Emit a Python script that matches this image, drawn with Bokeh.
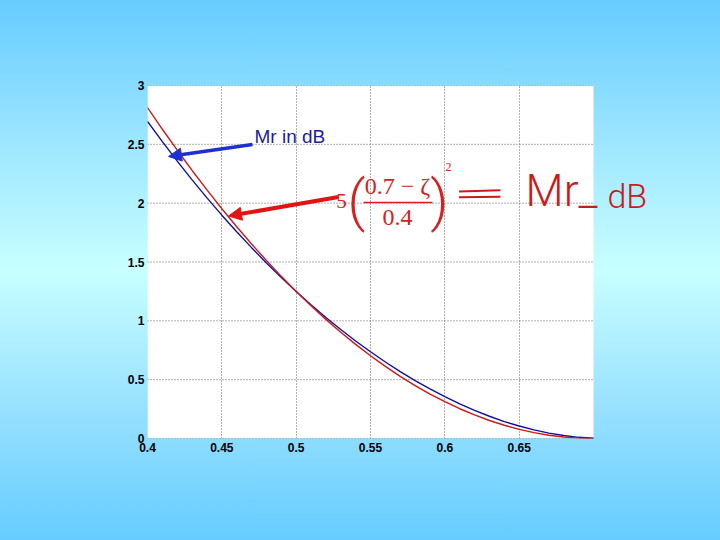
from bokeh.plotting import figure
from bokeh.models import Label, Arrow, NormalHead, BoxAnnotation
from bokeh.embed import file_html
from bokeh.resources import INLINE

# damping ratio values
zeta = [0.40, 0.41, 0.42, 0.43, 0.44, 0.45, 0.46, 0.47, 0.48, 0.49, 0.50,
        0.51, 0.52, 0.53, 0.54, 0.55, 0.56, 0.57, 0.58, 0.59, 0.60,
        0.61, 0.62, 0.63, 0.64, 0.65, 0.66, 0.67, 0.68, 0.69, 0.70]
# Mr in dB (blue)
mr_db = [2.695, 2.523, 2.357, 2.198, 2.045, 1.898, 1.757, 1.622, 1.492, 1.368, 1.249,
         1.136, 1.028, 0.926, 0.829, 0.737, 0.650, 0.568, 0.492, 0.421, 0.355,
         0.294, 0.239, 0.189, 0.144, 0.106, 0.073, 0.046, 0.025, 0.010, 0.002]
# approximation 5((0.7-zeta)/0.4)^2 (red)
approx = [2.8125, 2.628, 2.450, 2.278, 2.1125, 1.953, 1.800, 1.653, 1.5125, 1.378, 1.250,
          1.128, 1.0125, 0.903, 0.800, 0.703, 0.6125, 0.528, 0.450, 0.378, 0.3125,
          0.253, 0.200, 0.153, 0.1125, 0.078, 0.050, 0.028, 0.0125, 0.003, 0.0]
x_ticks = [0.4, 0.45, 0.5, 0.55, 0.6, 0.65]
y_ticks = [0, 0.5, 1, 1.5, 2, 2.5, 3]
x_min, x_max = 0.4, 0.7
y_min, y_max = 0, 3

# frame extends to the right page edge so that annotations beyond the axes box are not clipped
p = figure(frame_width=573, frame_height=353, x_range=(0.4, 0.4 + 573 * 0.3 / 446), y_range=(0, 3),
           output_backend="svg", toolbar_location=None,
           min_border_left=147, min_border_right=0, min_border_top=85, min_border_bottom=102)
p.styles = {"background": "linear-gradient(180deg, #66ccff 0%, #99e3ff 24%, #c8ffff 50%, #99e1ff 75%, #66ccff 100%)"}
p.border_fill_color = None
p.background_fill_color = None
p.outline_line_color = None

# white axes box
p.add_layout(BoxAnnotation(left=x_min, right=x_max, bottom=y_min, top=y_max, fill_color="white",
                           fill_alpha=1, line_color=None, level="image"))

for ax in (p.xaxis, p.yaxis):
    ax.axis_line_color = None
    ax.major_tick_line_color = None
    ax.minor_tick_line_color = None
    ax.major_tick_out = 0
    ax.major_tick_in = 0
    ax.major_label_text_font = "Liberation Sans"
    ax.major_label_text_font_style = "bold"
    ax.major_label_text_font_size = "12px"
    ax.major_label_text_color = "black"
p.xaxis.ticker = x_ticks
p.yaxis.ticker = y_ticks
p.xaxis.bounds = (x_min, x_max)
p.xaxis.major_label_standoff = 4
p.yaxis.major_label_standoff = 3
grid_color = "#606060"
p.xgrid.ticker = x_ticks
p.xgrid.grid_line_color = grid_color
p.xgrid.grid_line_dash = "1 2"
p.ygrid.visible = False
# horizontal grid lines limited to the axes box
n = len(y_ticks)
p.segment(x0=[x_min] * n, x1=[x_max] * n, y0=y_ticks, y1=y_ticks,
          line_color=grid_color, line_dash="1 2", line_width=1, level="underlay")

p.line(zeta, mr_db, line_color="#1010a8", line_width=1.4)
p.line(zeta, approx, line_color="#d01818", line_width=1.4)

# annotations
p.add_layout(Arrow(end=NormalHead(size=13, fill_color="#1f30d0", line_color="#1f30d0"),
                   x_start=0.4706, y_start=2.4986, x_end=0.4141, y_end=2.3966,
                   line_color="#1f30d0", line_width=3.5))
p.add_layout(Label(x=0.4720, y=2.5666, text="Mr in dB", text_font="Liberation Sans",
                   text_font_size="19px", text_color="#1c1ca0", text_baseline="middle"))

red = "#d82020"
p.add_layout(Arrow(end=NormalHead(size=13, fill_color="#e01414", line_color="#e01414"),
                   x_start=0.5285, y_start=2.0524, x_end=0.4545, y_end=1.8909,
                   line_color="#e01414", line_width=4))

serif = "Liberation Serif"
p.add_layout(Label(x=0.5305, y=2.0142, text="5", text_font=serif, text_font_size="21px",
                   text_color=red, text_align="center", text_baseline="middle"))
p.add_layout(Label(x=0.5406, y=2.0142, text="(", text_font="Roboto Light, Roboto", text_font_size="56px",
                   text_color=red, text_align="center", text_baseline="middle"))
p.add_layout(Label(x=0.5682, y=2.1501, text="0.7 \u2212 \u03b6", text_font=serif, text_font_size="24px",
                   text_color=red, text_align="center", text_baseline="middle"))
p.add_layout(Arrow(end=None, x_start=0.5453, y_start=2.0057, x_end=0.5917, y_end=2.0057,
                   line_color=red, line_width=1.5))
p.add_layout(Label(x=0.5682, y=1.8782, text="0.4", text_font=serif, text_font_size="24px",
                   text_color=red, text_align="center", text_baseline="middle"))
p.add_layout(Label(x=0.5964, y=2.0142, text=")", text_font="Roboto Light, Roboto", text_font_size="56px",
                   text_color=red, text_align="center", text_baseline="middle"))
p.add_layout(Label(x=0.6025, y=2.3116, text="2", text_font=serif, text_font_size="12px",
                   text_color=red, text_align="center", text_baseline="middle"))

# handwritten "= Mr_ dB"
hand = "#d01818"
p.add_layout(Arrow(end=None, x_start=0.6095, y_start=2.10, x_end=0.6374, y_end=2.11,
                   line_color=hand, line_width=2))
p.add_layout(Arrow(end=None, x_start=0.6095, y_start=2.05, x_end=0.6374, y_end=2.055,
                   line_color=hand, line_width=2))
p.add_layout(Label(x=0.6543, y=2.1037, text="Mr_", text_font="Roboto Light, Roboto",
                   text_font_size="44px", text_color=hand, text_baseline="middle"))
p.add_layout(Label(x=0.7094, y=2.0632, text="dB", text_font="Roboto Light, Roboto",
                   text_font_size="34px", text_color=hand, text_baseline="middle"))

open("out.html", "w").write(file_html(p, INLINE))
